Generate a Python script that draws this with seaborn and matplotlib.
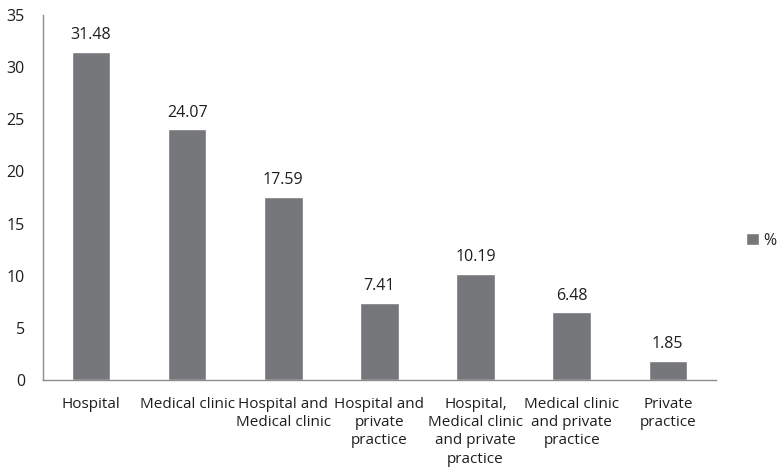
import numpy as np
import pandas as pd
import matplotlib.pyplot as plt
import seaborn as sns
from matplotlib.patches import Patch
from matplotlib.ticker import FixedLocator

# data
categories = ["Hospital", "Medical clinic", "Hospital and\nMedical clinic",
              "Hospital and\nprivate\npractice",
              "Hospital,\nMedical clinic\nand private\npractice",
              "Medical clinic\nand private\npractice", "Private\npractice"]
values = [31.48, 24.07, 17.59, 7.41, 10.19, 6.48, 1.85]
value_labels = ["31.48", "24.07", "17.59", "7.41", "10.19", "6.48", "1.85"]

df = pd.DataFrame({"place": categories, "pct": values})

sns.set_style("white")
plt.rcParams["font.family"] = ["Open Sans", "DejaVu Sans"]

bar_color = "#76777a"
axis_color = "#8c8c8c"
text_color = "#1e1e1e"
fs = 11

fig = plt.figure(figsize=(7.77, 4.72), dpi=100)
ax = fig.add_axes([0.0553, 0.195, 0.866, 0.773])

sns.barplot(data=df, x="place", y="pct", color=bar_color, width=0.4,
            saturation=1, ax=ax)

ax.bar_label(ax.containers[0], labels=value_labels, padding=6, fontsize=11.5,
             color=text_color)

ax.set_ylim(0, 35)
ax.set_yticks(np.arange(0, 36, 5))
ax.set_xlim(-0.5, len(categories) - 0.5)

# category labels at centres, tick marks at boundaries
ax.xaxis.set_major_locator(FixedLocator(np.arange(-0.5, len(categories), 1)))
ax.set_xticklabels([])
ax.xaxis.set_minor_locator(FixedLocator(np.arange(len(categories))))
ax.set_xticklabels(categories, minor=True, fontsize=fs, color=text_color,
                   ha="center", va="top", linespacing=1.3)
ax.tick_params(axis="x", which="minor", length=0, pad=12)
ax.tick_params(axis="x", which="major", length=5, color=axis_color, direction="out")
ax.tick_params(axis="y", length=5, color=axis_color, direction="out",
               labelsize=11.5, labelcolor=text_color, pad=8)

ax.set_xlabel("")
ax.set_ylabel("")
sns.despine(ax=ax)
for s in ["left", "bottom"]:
    ax.spines[s].set_color(axis_color)
    ax.spines[s].set_linewidth(1)

fig.legend(handles=[Patch(facecolor=bar_color, label="%")], loc="center left",
           bbox_to_anchor=(0.96, 0.49), frameon=False, fontsize=11.5,
           handlelength=0.8, handleheight=0.8, handletextpad=0.3,
           borderaxespad=0, borderpad=0)

fig.savefig("out.png", dpi=100)
